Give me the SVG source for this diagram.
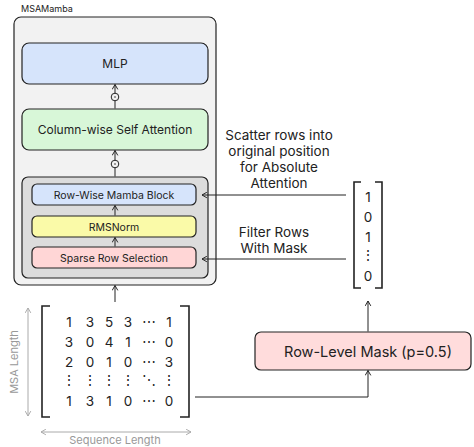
<svg xmlns="http://www.w3.org/2000/svg" width="474" height="447" viewBox="0 0 474 447">
  <defs>
    <marker id="arr" viewBox="0 0 10 10" refX="9" refY="5" markerWidth="7" markerHeight="7" markerUnits="userSpaceOnUse" orient="auto">
      <path d="M2,1 L9,5 L2,9" fill="none" stroke="#222" stroke-width="1.4"/>
    </marker>
    <marker id="garr" viewBox="0 0 10 10" refX="9" refY="5" markerWidth="7" markerHeight="7" markerUnits="userSpaceOnUse" orient="auto-start-reverse">
      <path d="M2,1 L9,5 L2,9" fill="none" stroke="#aaa" stroke-width="1.4"/>
    </marker>
  </defs>
  <style>
    text { font-family: Inter, "Liberation Sans", sans-serif; fill: #222; }
    .box { stroke: #222; stroke-width: 1.2; }
    .lbl { font-size: 12px; text-anchor: middle; }
    .sm { font-size: 10.5px; text-anchor: middle; }
    .note { font-size: 13.5px; text-anchor: middle; }
    .num { font-size: 13.5px; text-anchor: middle; }
    .edge { fill: none; stroke: #222; stroke-width: 1; }
    .gray { fill: #999; font-size: 11px; }
    .bracket { fill: none; stroke: #222; stroke-width: 1.6; }
  </style>

  <!-- outer MSAMamba block -->
  <g id="msamamba">
    <text x="21" y="12" style="font-size:9px">MSAMamba</text>
    <rect x="14" y="17" width="202" height="268" rx="7" fill="#f2f2f2" class="box"/>
  </g>

  <g id="mlp">
    <rect x="22" y="43" width="186" height="41" rx="7" fill="#d6e4fb" class="box"/>
    <text x="115" y="68" class="lbl">MLP</text>
  </g>

  <g id="col-attn">
    <rect x="22" y="109" width="186" height="41" rx="7" fill="#d8f7d8" class="box"/>
    <text x="115" y="134" class="lbl">Column-wise Self Attention</text>
  </g>

  <g id="row-stack">
    <rect x="22" y="177" width="186" height="101" rx="6" fill="#dcdcdc" class="box"/>
  </g>

  <g id="row-mamba">
    <rect x="32" y="184" width="164" height="21" rx="5" fill="#d6e4fb" class="box"/>
    <text x="114" y="198.5" class="sm">Row-Wise Mamba Block</text>
  </g>

  <g id="rmsnorm">
    <rect x="32" y="216" width="164" height="21" rx="5" fill="#fafaa8" class="box"/>
    <text x="114" y="230.5" class="sm">RMSNorm</text>
  </g>

  <g id="sparse-row">
    <rect x="32" y="247" width="164" height="21" rx="5" fill="#ffd6d6" class="box"/>
    <text x="114" y="261.5" class="sm">Sparse Row Selection</text>
  </g>

  <g id="row-mask">
    <rect x="255" y="332" width="216" height="38" rx="6" fill="#ffdcdc" class="box"/>
    <text x="368" y="356.5" style="font-size:14.5px;text-anchor:middle">Row-Level Mask (p=0.5)</text>
  </g>

  <!-- mask vector -->
  <g id="mask-vector">
    <path class="bracket" d="M361,182 H354 V288 H361 M375,182 H382 V288 H375"/>
    <text x="368" y="202" class="num">1</text>
    <text x="368" y="222" class="num">0</text>
    <text x="368" y="242" class="num">1</text>
    <text x="368" y="259.5" class="num">⋮</text>
    <text x="368" y="281" class="num">0</text>
  </g>

  <!-- input MSA matrix -->
  <g id="msa-matrix">
    <path class="bracket" d="M50,306 H42 V417 H50 M180,306 H189 V417 H180"/>
    <g class="num">
      <text x="69" y="327">1</text><text x="90" y="327">3</text><text x="109" y="327">5</text><text x="128" y="327">3</text><text x="149" y="327">⋯</text><text x="169" y="327">1</text>
      <text x="69" y="347">3</text><text x="90" y="347">0</text><text x="109" y="347">4</text><text x="128" y="347">1</text><text x="149" y="347">⋯</text><text x="169" y="347">0</text>
      <text x="69" y="367">2</text><text x="90" y="367">0</text><text x="109" y="367">1</text><text x="128" y="367">0</text><text x="149" y="367">⋯</text><text x="169" y="367">3</text>
      <text x="69" y="384.5">⋮</text><text x="90" y="384.5">⋮</text><text x="109" y="384.5">⋮</text><text x="128" y="384.5">⋮</text><text x="149" y="384.5">⋱</text><text x="169" y="384.5">⋮</text>
      <text x="69" y="406">1</text><text x="90" y="406">3</text><text x="109" y="406">1</text><text x="128" y="406">0</text><text x="149" y="406">⋯</text><text x="169" y="406">0</text>
    </g>
    <line x1="28" y1="308" x2="28" y2="416" stroke="#aaa" stroke-width="1" marker-start="url(#garr)" marker-end="url(#garr)"/>
    <text x="0" y="0" class="gray" text-anchor="middle" transform="translate(18,362) rotate(-90)">MSA Length</text>
    <line x1="41" y1="432" x2="191" y2="432" stroke="#aaa" stroke-width="1" marker-start="url(#garr)" marker-end="url(#garr)"/>
    <text x="115" y="444" class="gray" text-anchor="middle">Sequence Length</text>
  </g>

  <!-- annotations -->
  <g id="notes">
    <text class="note" x="279" y="140">Scatter rows into</text>
    <text class="note" x="279" y="156">original position</text>
    <text class="note" x="279" y="172">for Absolute</text>
    <text class="note" x="279" y="188">Attention</text>
    <text class="note" x="274" y="237">Filter Rows</text>
    <text class="note" x="274" y="253">With Mask</text>
  </g>

  <!-- connectors -->
  <g id="edges">
    <line class="edge" x1="115" y1="108.5" x2="115" y2="84.5" marker-end="url(#arr)"/>
    <line class="edge" x1="115" y1="176.5" x2="115" y2="150.5" marker-end="url(#arr)"/>
    <line class="edge" x1="115" y1="215.5" x2="115" y2="205.5" marker-end="url(#arr)"/>
    <line class="edge" x1="115" y1="246.5" x2="115" y2="237.5" marker-end="url(#arr)"/>
    <line class="edge" x1="115" y1="302" x2="115" y2="285.5" marker-end="url(#arr)"/>
    <line class="edge" x1="346" y1="195" x2="202" y2="195" marker-end="url(#arr)"/>
    <line class="edge" x1="346" y1="259" x2="202" y2="259" marker-end="url(#arr)"/>
    <line class="edge" x1="368" y1="331.5" x2="368" y2="301" marker-end="url(#arr)"/>
    <polyline class="edge" points="195,397 368,397 368,370.5" marker-end="url(#arr)"/>
    <!-- residual add points -->
    <circle cx="115" cy="97" r="3.8" fill="#f2f2f2" stroke="#222" stroke-width="1"/>
    <circle cx="115" cy="97" r="1.1" fill="#888"/>
    <circle cx="115" cy="164" r="3.8" fill="#f2f2f2" stroke="#222" stroke-width="1"/>
    <circle cx="115" cy="164" r="1.1" fill="#888"/>
  </g>
</svg>
